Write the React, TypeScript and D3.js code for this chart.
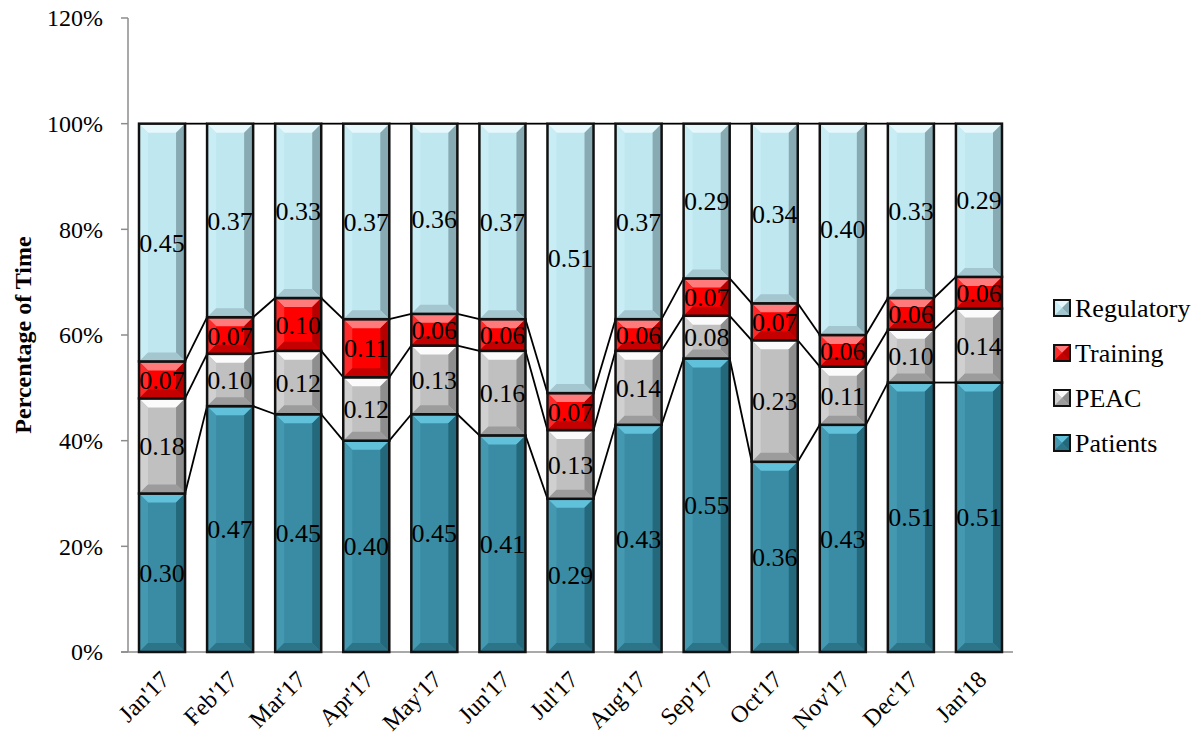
import React from "react";
import * as d3 from "d3";

const months = ["Jan'17", "Feb'17", "Mar'17", "Apr'17", "May'17", "Jun'17", "Jul'17", "Aug'17", "Sep'17", "Oct'17", "Nov'17", "Dec'17", "Jan'18"];
const patients = [0.30, 0.47, 0.45, 0.40, 0.45, 0.41, 0.29, 0.43, 0.55, 0.36, 0.43, 0.51, 0.51];
const peac = [0.18, 0.10, 0.12, 0.12, 0.13, 0.16, 0.13, 0.14, 0.08, 0.23, 0.11, 0.10, 0.14];
const training = [0.07, 0.07, 0.10, 0.11, 0.06, 0.06, 0.07, 0.06, 0.07, 0.07, 0.06, 0.06, 0.06];
const regulatory = [0.45, 0.37, 0.33, 0.37, 0.36, 0.37, 0.51, 0.37, 0.29, 0.34, 0.40, 0.33, 0.29];
const yTicks = [0, 0.2, 0.4, 0.6, 0.8, 1.0, 1.2];

const seriesKeys = ["Patients", "PEAC", "Training", "Regulatory"];
const seriesValues: Record<string, number[]> = {
  Patients: patients,
  PEAC: peac,
  Training: training,
  Regulatory: regulatory,
};

// fill, top bevel, left bevel, right bevel, bottom bevel
const palette: Record<string, string[]> = {
  Patients: ["#3a8ca4", "#62c1da", "#4499b1", "#24687b", "#2c7488"],
  PEAC: ["#c0c0c0", "#fbfbfb", "#d0d0d0", "#8e8e8e", "#9c9c9c"],
  Training: ["#ff0000", "#ff7a7a", "#ff2a2a", "#b50000", "#c40000"],
  Regulatory: ["#bfe7f0", "#e6f8fb", "#c9edf4", "#88aab3", "#a3c6cf"],
};

const FONT = "'Liberation Serif', 'Times New Roman', serif";

const left = 128, right = 1013, top = 18, bottom = 652;

function Bevel({ x, y, w, h, colors, stroke = 2.5 }: { x: number; y: number; w: number; h: number; colors: string[]; stroke?: number }) {
  const b = Math.max(0, Math.min(9, h / 2, w / 2));
  const x1 = x + w, y1 = y + h;
  const pts = (a: number[][]) => a.map((p) => p.join(",")).join(" ");
  return (
    <g>
      <rect x={x} y={y} width={w} height={h} fill={colors[0]} />
      <polygon points={pts([[x, y], [x1, y], [x1 - b, y + b], [x + b, y + b]])} fill={colors[1]} />
      <polygon points={pts([[x, y], [x + b, y + b], [x + b, y1 - b], [x, y1]])} fill={colors[2]} />
      <polygon points={pts([[x1, y], [x1, y1], [x1 - b, y1 - b], [x1 - b, y + b]])} fill={colors[3]} />
      <polygon points={pts([[x, y1], [x + b, y1 - b], [x1 - b, y1 - b], [x1, y1]])} fill={colors[4]} />
      <rect x={x} y={y} width={w} height={h} fill="none" stroke="#111" strokeWidth={stroke} />
    </g>
  );
}

export default function App() {
  const rows = months.map((m, i) => {
    const r: any = { month: m };
    seriesKeys.forEach((k) => (r[k] = seriesValues[k][i]));
    return r;
  });
  const stacked = d3.stack<any>().keys(seriesKeys).offset(d3.stackOffsetExpand)(rows);

  const x = d3.scaleBand<string>().domain(months).range([left, right]).paddingInner(0.3235).paddingOuter(0.3235 / 2);
  const y = d3.scaleLinear().domain([0, 1.2]).range([bottom, top]);
  const bw = x.bandwidth();

  return (
    <svg width={1199} height={738} style={{ position: "absolute", left: 0, top: 0, background: "#fff" }}>
      {/* axes */}
      <line x1={left} x2={left} y1={top} y2={bottom} stroke="#8c8c8c" strokeWidth={1.5} />
      <line x1={left - 7} x2={right} y1={bottom} y2={bottom} stroke="#8c8c8c" strokeWidth={1.5} />
      {yTicks.map((t) => (
        <g key={t}>
          <line x1={left - 7} x2={left} y1={y(t)} y2={y(t)} stroke="#8c8c8c" strokeWidth={1.5} />
          <text x={103} y={y(t)} dy="0.35em" textAnchor="end" fontFamily={FONT} fontSize={24} fill="#000">
            {Math.round(t * 100)}%
          </text>
        </g>
      ))}
      <text transform={`translate(31,${(top + bottom) / 2}) rotate(-90)`} textAnchor="middle" fontFamily={FONT} fontSize={24} fontWeight="bold">
        Percentage of Time
      </text>

      {/* series lines between bars */}
      {stacked.map((layer) =>
        months.slice(0, -1).map((m, i) => (
          <line
            key={layer.key + m}
            x1={(x(m) as number) + bw}
            y1={y(layer[i][1])}
            x2={x(months[i + 1]) as number}
            y2={y(layer[i + 1][1])}
            stroke="#000"
            strokeWidth={1.8}
          />
        ))
      )}

      {/* bars */}
      {stacked.map((layer) =>
        layer.map((d, i) => {
          const x0 = x(months[i]) as number;
          const y0 = y(d[1]);
          const h = y(d[0]) - y(d[1]);
          return <Bevel key={layer.key + i} x={x0} y={y0} w={bw} h={h} colors={palette[layer.key]} />;
        })
      )}

      {/* value labels */}
      {stacked.map((layer) =>
        layer.map((d, i) => (
          <text
            key={"l" + layer.key + i}
            x={(x(months[i]) as number) + bw / 2}
            y={(y(d[0]) + y(d[1])) / 2}
            dy="0.35em"
            textAnchor="middle"
            fontFamily={FONT}
            fontSize={26}
            fill="#000"
          >
            {seriesValues[layer.key][i].toFixed(2)}
          </text>
        ))
      )}

      {/* category labels */}
      {months.map((m) => {
        const cx = (x(m) as number) + bw / 2;
        return (
          <text key={m} transform={`translate(${cx + 3},${675}) rotate(-45)`} textAnchor="end" dy="0.35em" fontFamily={FONT} fontSize={24}>
            {m}
          </text>
        );
      })}

      {/* legend */}
      {seriesKeys
        .slice()
        .reverse()
        .map((k, i) => {
          const cy = 308 + i * 45;
          return (
            <g key={k}>
              <Bevel x={1054} y={cy - 8} w={16} h={16} colors={palette[k]} stroke={2} />
              <text x={1075} y={cy} dy="0.35em" fontFamily={FONT} fontSize={26}>
                {k}
              </text>
            </g>
          );
        })}
    </svg>
  );
}
